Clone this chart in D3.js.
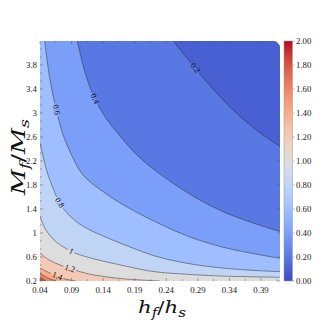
<!DOCTYPE html>
<html><head><meta charset="utf-8">
<script src="https://cdn.jsdelivr.net/npm/d3@7"></script>
<style>body{margin:0;background:#fff}svg{display:block}</style>
</head><body><svg id="c" width="334" height="334"></svg>
<script>
// ---------------- data ----------------
const levels = [0.2, 0.4, 0.6, 0.8, 1.0, 1.2, 1.4, 1.6, 1.8];
const labeledLevels = [0.2, 0.4, 0.6, 0.8, 1.0, 1.2, 1.4];
// contour lines: [h_f/h_s, M_f/M_s]
const c02 = [[0.251,4.2],[0.268,3.975],[0.2854,3.75],[0.3076,3.475],[0.3329,3.183],[0.3567,2.942],[0.3868,2.683],[0.42,2.442]];
const c04 = [[0.0991,4.2],[0.1108,3.695],[0.1239,3.305],[0.1424,2.945],[0.1587,2.717],[0.1746,2.517],[0.1952,2.283],[0.23,1.983],[0.2822,1.617],[0.3329,1.342],[0.3868,1.133],[0.42,1.025]];
const c06 = [[0.0474,4.2],[0.0554,3.583],[0.0658,3.055],[0.0764,2.638],[0.0907,2.283],[0.1081,1.967],[0.1429,1.667],[0.1778,1.433],[0.23,1.15],[0.2775,0.933],[0.3282,0.767],[0.3852,0.642],[0.42,0.578]];
const c08 = [[0.04,2.5],[0.0463,2.217],[0.0527,1.967],[0.0606,1.75],[0.0685,1.55],[0.0796,1.375],[0.0907,1.25],[0.1033,1.145],[0.1192,1.05],[0.1398,0.95],[0.1667,0.833],[0.2221,0.617],[0.2743,0.492],[0.3282,0.417],[0.3852,0.372],[0.42,0.358]];
const c10 = [[0.04,1.272],[0.0495,1.05],[0.0653,0.855],[0.0899,0.692],[0.1128,0.605],[0.1714,0.458],[0.2189,0.358],[0.2728,0.312],[0.325,0.283],[0.42,0.262]];
const c12 = [[0.04,0.667],[0.0543,0.55],[0.0717,0.467],[0.0875,0.408],[0.1176,0.317],[0.1667,0.242],[0.23,0.2]];
const c14 = [[0.04,0.412],[0.0558,0.333],[0.0669,0.283],[0.0796,0.233],[0.097,0.2]];
const c16 = [[0.04,0.325],[0.0527,0.25],[0.0653,0.2]];
const c18 = [[0.04,0.258],[0.0495,0.2]];
const contourLines = [c02, c04, c06, c08, c10, c12, c14, c16, c18];
const maskedCorner = [[0.4105,4.2],[0.42,4.2],[0.42,4.11],[0.4155,4.17]];
const xDomain = [0.04, 0.42];
const yDomain = [0.2, 4.2];
const xTicks = [0.04, 0.09, 0.14, 0.19, 0.24, 0.29, 0.34, 0.39];
const yTicks = [0.2, 0.6, 1.0, 1.4, 1.8, 2.2, 2.6, 3.0, 3.4, 3.8];
const cbarTicks = [0, 0.2, 0.4, 0.6, 0.8, 1.0, 1.2, 1.4, 1.6, 1.8, 2.0];
const cbarDomain = [0, 2];

// ---------------- style ----------------
// colormap position used for each filled band (0-0.2, 0.2-0.4, ...)
const bandPos = [0.045, 0.1, 0.2, 0.3, 0.4, 0.5, 0.6, 0.7, 0.8, 0.9];
const labelFrac = [0.23, 0.205, 0.195, 0.21, 0.185, 0.27, 0.49];
const CW = [[59,76,192],[68,90,204],[77,104,215],[87,117,225],[98,130,234],[108,142,241],[119,154,247],[130,165,251],[141,176,254],[152,185,255],[163,194,255],[174,201,253],[184,208,249],[194,213,244],[204,217,238],[213,219,230],[221,221,221],[229,216,209],[236,211,197],[241,204,185],[245,196,173],[247,187,160],[247,177,148],[247,166,135],[244,154,123],[241,141,111],[236,127,99],[229,112,88],[222,96,77],[213,80,66],[203,62,56],[192,40,47],[180,4,38]];
function coolwarm(t){
  t = Math.max(0, Math.min(1, t));
  const n = CW.length - 1, f = t*n, i = Math.min(n-1, Math.floor(f)), u = f - i;
  const a = CW[i], b = CW[i+1];
  return d3.rgb(a[0]+(b[0]-a[0])*u, a[1]+(b[1]-a[1])*u, a[2]+(b[2]-a[2])*u).formatHex();
}
const bandColor = i => coolwarm(bandPos[i]);

const FONT = "'Liberation Serif','DejaVu Serif',serif";
const TFONT = "'DejaVu Serif','Liberation Serif',serif";
const X0=40, X1=280, Y0=41, Y1=281;
const x = d3.scaleLinear().domain(xDomain).range([X0, X1]);
const y = d3.scaleLinear().domain(yDomain).range([Y1, Y0]);
const svg = d3.select('#c');
const defs = svg.append('defs');
defs.append('clipPath').attr('id','clip').append('rect')
  .attr('x',X0).attr('y',Y0).attr('width',X1-X0).attr('height',Y1-Y0);

const lineGen = d3.line().x(d=>x(d[0])).y(d=>y(d[1])).curve(d3.curveCatmullRom.alpha(0.5));
const eps = 1e-6;
function regionPath(pts){
  let d = lineGen(pts);
  const s = pts[0], e = pts[pts.length-1];
  const corners = [];
  if (Math.abs(e[0]-xDomain[1])<eps) corners.push([xDomain[1], yDomain[0]]);
  corners.push([xDomain[0], yDomain[0]]);
  if (Math.abs(s[1]-yDomain[1])<eps) corners.push([xDomain[0], yDomain[1]]);
  corners.forEach(c => d += `L${x(c[0])},${y(c[1])}`);
  return d + 'Z';
}

const g = svg.append('g').attr('clip-path','url(#clip)');
g.append('rect').attr('x',X0).attr('y',Y0).attr('width',X1-X0).attr('height',Y1-Y0).attr('fill',bandColor(0));
contourLines.forEach((pts,k)=>{
  g.append('path').attr('d',regionPath(pts)).attr('fill',bandColor(k+1));
});

// contour lines, label positions + masks
const measure = svg.append('text').attr('font-family',FONT).attr('font-size',8.3);
const labelInfo = [];
contourLines.forEach((pts,k)=>{
  const lv = levels[k];
  const li = labeledLevels.indexOf(lv);
  const p = g.append('path').attr('d',lineGen(pts)).attr('fill','none')
    .attr('stroke','#2a2a2a').attr('stroke-width',0.55).attr('stroke-opacity',0.9);
  if (li < 0) return;
  const node = p.node(), L = node.getTotalLength();
  const s = labelFrac[li]*L;
  const pa = node.getPointAtLength(Math.max(0,s-3)), pb = node.getPointAtLength(Math.min(L,s+3));
  const pc = node.getPointAtLength(s);
  let ang = Math.atan2(pb.y-pa.y, pb.x-pa.x)*180/Math.PI;
  if (ang > 90) ang -= 180; if (ang < -90) ang += 180;
  const txt = d3.format('~g')(lv);
  measure.text(txt);
  const tw = measure.node().getComputedTextLength();
  const id = 'm'+k;
  const m = defs.append('mask').attr('id',id).attr('maskUnits','userSpaceOnUse')
    .attr('x',0).attr('y',0).attr('width',334).attr('height',334);
  m.append('rect').attr('x',0).attr('y',0).attr('width',334).attr('height',334).attr('fill','#fff');
  m.append('rect').attr('x',-tw/2-1.5).attr('y',-4).attr('width',tw+3).attr('height',8)
    .attr('fill','#000').attr('transform',`translate(${pc.x},${pc.y}) rotate(${ang})`);
  p.attr('mask',`url(#${id})`);
  labelInfo.push({x:pc.x, y:pc.y, ang, txt});
});
measure.remove();

// masked corner
g.append('path').attr('d', d3.line().x(d=>x(d[0])).y(d=>y(d[1])).curve(d3.curveLinearClosed)(maskedCorner))
  .attr('fill','#fff').attr('stroke','none');
g.append('path').attr('d', d3.line().x(d=>x(d[0])).y(d=>y(d[1]))([maskedCorner[0],maskedCorner[3],maskedCorner[2]]))
  .attr('fill','none').attr('stroke','#333').attr('stroke-width',0.5);

labelInfo.forEach(l=>{
  svg.append('text').attr('transform',`translate(${l.x},${l.y}) rotate(${l.ang})`)
    .attr('text-anchor','middle').attr('dominant-baseline','central')
    .attr('font-family',FONT).attr('font-size',8.3).attr('fill','#111').text(l.txt);
});

// ticks (inward)
const tk = svg.append('g').attr('stroke','#555').attr('stroke-width',0.5);
const xMinor = d3.range(0, 16).map(i => xDomain[0] + i*0.025).filter(v=>v<xDomain[1]-1e-9);
xMinor.forEach((v,i)=>{
  const len = (i%2===0)?3:1.8;
  tk.append('line').attr('x1',x(v)).attr('x2',x(v)).attr('y1',Y1).attr('y2',Y1-len);
  tk.append('line').attr('x1',x(v)).attr('x2',x(v)).attr('y1',Y0).attr('y2',Y0+len);
});
const yMinor = d3.range(0, 31).map(i => yDomain[0] + i*0.4/3).filter(v=>v<yDomain[1]-1e-9);
yMinor.forEach((v,i)=>{
  const len = (i%3===0)?3:1.8;
  tk.append('line').attr('x1',X0).attr('x2',X0+len).attr('y1',y(v)).attr('y2',y(v));
});
yTicks.forEach(v=>{
  tk.append('line').attr('x1',X1).attr('x2',X1-3).attr('y1',y(v)).attr('y2',y(v));
});

// tick labels
svg.append('g').selectAll('text').data(xTicks).join('text')
  .attr('x',d=>x(d)).attr('y',292.5).attr('text-anchor','middle')
  .attr('font-family',FONT).attr('font-size',8.8).attr('fill','#222')
  .text(d=>d3.format('.2f')(d));
svg.append('g').selectAll('text').data(yTicks).join('text')
  .attr('x',37).attr('y',d=>y(d)).attr('text-anchor','end').attr('dominant-baseline','central')
  .attr('font-family',FONT).attr('font-size',8.8).attr('fill','#222')
  .text(d=>d3.format('~g')(d));

// axis titles
const xt = svg.append('text').attr('x',162).attr('y',313).attr('text-anchor','middle')
  .attr('font-family',TFONT).attr('font-size',17).attr('fill','#111')
  .attr('textLength',48).attr('lengthAdjust','spacingAndGlyphs');
xt.append('tspan').attr('font-style','italic').text('h');
xt.append('tspan').attr('font-style','italic').attr('font-size',12).attr('dy',4).text('f');
xt.append('tspan').attr('dy',-4).attr('font-weight','normal').text('/');
xt.append('tspan').attr('font-style','italic').text('h');
xt.append('tspan').attr('font-style','italic').attr('font-size',12).attr('dy',4).text('s');

const yt = svg.append('text').attr('transform','translate(25,157) rotate(-90)').attr('text-anchor','middle')
  .attr('font-family',TFONT).attr('font-size',19).attr('fill','#111')
  .attr('textLength',76).attr('lengthAdjust','spacingAndGlyphs');
yt.append('tspan').attr('font-style','italic').text('M');
yt.append('tspan').attr('font-style','italic').attr('font-size',13).attr('dy',4).text('f');
yt.append('tspan').attr('dy',-4).text('/');
yt.append('tspan').attr('font-style','italic').text('M');
yt.append('tspan').attr('font-style','italic').attr('font-size',13).attr('dy',4).text('s');

// colorbar
const CB0 = 284, CBW = 8.5;
const cy = d3.scaleLinear().domain(cbarDomain).range([Y1, Y0]);
const grad = defs.append('linearGradient').attr('id','cbg').attr('x1',0).attr('y1',1).attr('x2',0).attr('y2',0);
d3.range(0, 65).forEach(i=>{
  grad.append('stop').attr('offset', i/64).attr('stop-color', coolwarm(i/64));
});
svg.append('rect').attr('x',CB0).attr('y',Y0).attr('width',CBW).attr('height',Y1-Y0)
  .attr('fill','url(#cbg)').attr('stroke','#999').attr('stroke-width',0.5);
cbarTicks.forEach(v=>{
  svg.append('line').attr('x1',CB0+CBW).attr('x2',CB0+CBW+2).attr('y1',cy(v)).attr('y2',cy(v))
    .attr('stroke','#777').attr('stroke-width',0.5);
  svg.append('text').attr('x',296).attr('y',cy(v)).attr('dominant-baseline','central')
    .attr('font-family',FONT).attr('font-size',8.8).attr('fill','#222').text(d3.format('.2f')(v));
});
</script></body></html>
